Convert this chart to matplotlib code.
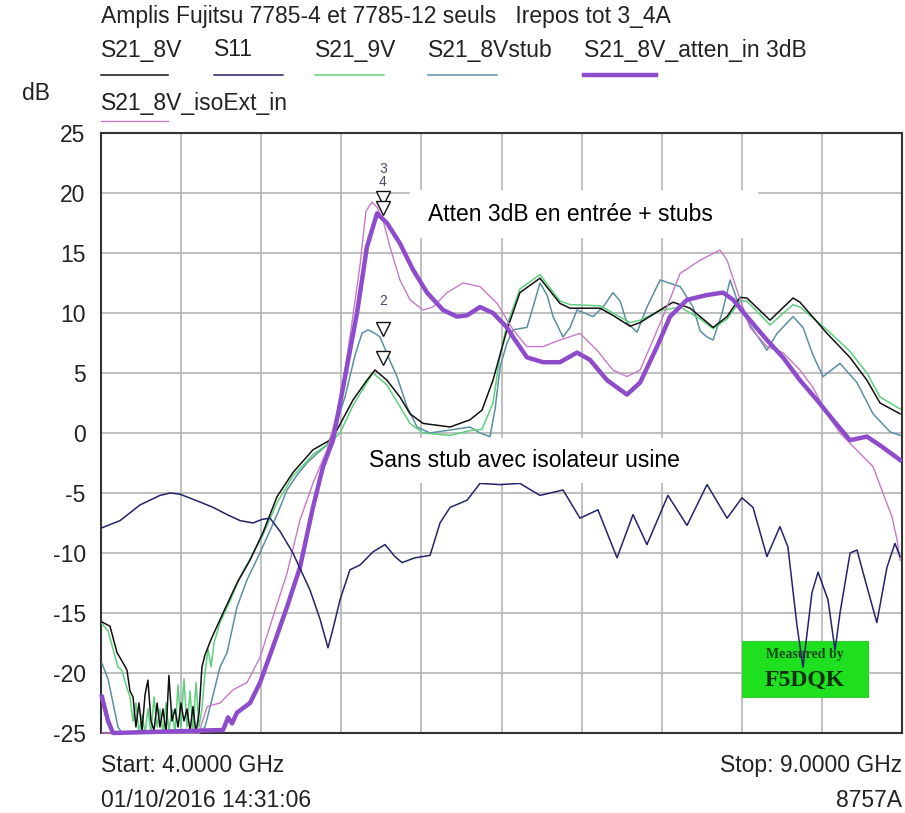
import matplotlib
matplotlib.use("Agg")
import matplotlib.pyplot as plt
import matplotlib.transforms as mtransforms
from matplotlib.patches import Rectangle

plt.rcParams['font.family'] = ['Liberation Sans', 'DejaVu Sans']

# ---------------- data (GHz, dB) ----------------
s11_f = [4.006, 4.119, 4.243, 4.368, 4.431, 4.493, 4.618, 4.70, 4.787, 4.868, 4.949, 5.005,
         5.055, 5.118, 5.198, 5.305, 5.367, 5.417, 5.454, 5.492, 5.554, 5.617, 5.698, 5.773,
         5.835, 5.879, 5.96, 6.054, 6.116, 6.179, 6.285, 6.366, 6.491, 6.615, 6.74, 6.884,
         6.99, 7.102, 7.221, 7.321, 7.408, 7.539, 7.658, 7.783, 7.908, 8.001, 8.07, 8.157,
         8.238, 8.288, 8.344, 8.382, 8.438, 8.476, 8.538, 8.582, 8.613, 8.676, 8.719, 8.781,
         8.843, 8.906, 8.956, 8.988]
s11_db = [-7.9, -7.3, -6.0, -5.2, -5.0, -5.1, -5.75, -6.2, -6.8, -7.3, -7.5, -7.2,
          -7.1, -8.2, -10.0, -13.1, -15.5, -17.9, -16.0, -13.9, -11.4, -11.0, -9.9, -9.3,
          -10.3, -10.8, -10.4, -10.2, -7.5, -6.2, -5.6, -4.2, -4.3, -4.2, -5.2, -4.75,
          -7.1, -6.4, -10.4, -6.8, -9.3, -5.2, -7.7, -4.3, -7.1, -5.4, -6.2, -10.3,
          -7.8, -9.5, -16.0, -19.5, -13.3, -11.6, -13.9, -18.1, -15.0, -10.0, -9.75, -12.8,
          -15.8, -11.2, -9.2, -10.3]

s21_8v_f = [4.006, 4.056, 4.100, 4.131, 4.162, 4.181, 4.200, 4.218, 4.237, 4.256, 4.275, 4.293,
            4.312, 4.331, 4.350, 4.368, 4.387, 4.406, 4.424, 4.443, 4.462, 4.481, 4.499, 4.518,
            4.537, 4.556, 4.574, 4.593, 4.612, 4.630, 4.649, 4.687, 4.762, 4.849, 4.930, 5.011,
            5.099, 5.198, 5.323, 5.429, 5.473, 5.573, 5.660, 5.710, 5.785, 5.866, 5.929, 6.010,
            6.179, 6.303, 6.378, 6.447, 6.534, 6.615, 6.740, 6.865, 6.928, 7.115, 7.196, 7.302,
            7.365, 7.490, 7.571, 7.677, 7.821, 7.908, 7.989, 8.032, 8.176, 8.320, 8.363, 8.532,
            8.675, 8.781, 8.863, 8.988]
s21_8v_db = [-15.75, -16.1, -18.3, -19.0, -19.75, -21.5, -22.0, -24.5, -22.5, -24.8, -21.8, -20.6,
             -24.0, -24.8, -22.5, -24.5, -23.0, -25.0, -20.2, -24.0, -23.0, -24.5, -22.5, -24.0,
             -23.0, -24.8, -22.8, -25.0, -23.3, -19.5, -18.5, -17.2, -15.0, -12.5, -10.6, -8.3,
             -5.3, -3.3, -1.4, -0.6, 0.25, 2.75, 4.4, 5.25, 4.4, 3.0, 1.6, 0.8,
             0.5, 1.1, 1.9, 4.4, 8.6, 11.7, 12.9, 10.8, 10.4, 10.4, 9.8, 8.9,
             9.2, 10.25, 10.9, 10.4, 8.8, 9.7, 11.3, 11.25, 9.4, 11.25, 10.9, 8.3,
             6.3, 4.4, 2.5, 1.6]

s21_9v_f = [4.006, 4.044, 4.075, 4.106, 4.131, 4.156, 4.181, 4.200, 4.218, 4.237, 4.256, 4.275,
            4.293, 4.312, 4.331, 4.350, 4.368, 4.387, 4.406, 4.424, 4.443, 4.462, 4.481, 4.499,
            4.518, 4.537, 4.556, 4.574, 4.593, 4.612, 4.630, 4.649, 4.668, 4.687, 4.705, 4.743,
            4.805, 4.868, 4.930, 5.011, 5.099, 5.198, 5.323, 5.429, 5.492, 5.573, 5.660, 5.698,
            5.785, 5.866, 5.929, 6.010, 6.179, 6.303, 6.378, 6.447, 6.491, 6.534, 6.615, 6.740,
            6.865, 6.928, 7.115, 7.196, 7.302, 7.365, 7.490, 7.615, 7.740, 7.821, 7.908, 7.989,
            8.032, 8.176, 8.320, 8.363, 8.532, 8.675, 8.781, 8.863, 8.988]
s21_9v_db = [-15.9, -16.5, -18.0, -19.5, -19.8, -21.0, -22.0, -24.0, -22.5, -25.0, -23.5, -25.0,
             -23.0, -25.0, -22.0, -24.5, -23.0, -25.0, -22.5, -24.8, -23.0, -25.0, -21.0, -24.5,
             -20.5, -24.5, -21.5, -25.0, -20.8, -24.5, -23.0, -20.0, -18.0, -19.5, -17.5, -15.8,
             -14.0, -12.0, -10.5, -8.5, -5.8, -3.6, -1.8, -0.8, 0.0, 2.3, 4.2, 5.0,
             4.0, 2.2, 0.8, 0.0, -0.2, 0.2, 0.3, 2.5, 6.5, 9.0, 12.0, 13.2,
             11.0, 10.7, 10.6, 10.0, 9.2, 9.4, 10.2, 10.5, 9.5, 8.7, 9.5, 11.0,
             11.0, 9.0, 10.7, 10.5, 8.6, 6.8, 5.0, 3.0, 2.0]

s21_stub_f = [4.006, 4.044, 4.075, 4.106, 4.131, 4.612, 4.649, 4.687, 4.743, 4.787, 4.849, 4.911,
              4.974, 5.036, 5.099, 5.161, 5.224, 5.286, 5.349, 5.411, 5.461, 5.523, 5.586, 5.629,
              5.667, 5.710, 5.742, 5.804, 5.848, 5.910, 5.973, 6.054, 6.179, 6.303, 6.366, 6.428,
              6.460, 6.491, 6.534, 6.572, 6.659, 6.697, 6.740, 6.784, 6.822, 6.884, 6.928, 6.971,
              7.071, 7.134, 7.196, 7.240, 7.283, 7.346, 7.408, 7.490, 7.615, 7.696, 7.740, 7.783,
              7.821, 7.877, 7.927, 7.970, 8.051, 8.157, 8.220, 8.320, 8.382, 8.444, 8.507, 8.613,
              8.719, 8.819, 8.925, 8.988]
s21_stub_db = [-19.2, -20.5, -22.5, -24.5, -25.0, -25.0, -24.5, -22.5, -19.5, -18.3, -14.5, -12.25,
               -10.5, -8.7, -6.8, -4.75, -3.5, -2.5, -1.7, -1.0, 0.5, 3.0, 6.5, 8.3,
               8.6, 8.3, 8.0, 6.0, 4.7, 2.2, 0.5, 0.0, 0.25, 0.5, 0.0, -0.3,
               2.0, 5.5, 7.5, 8.6, 8.8, 10.5, 12.5, 11.5, 9.7, 8.0, 8.8, 10.25,
               9.7, 10.5, 11.7, 11.0, 9.2, 8.4, 10.5, 12.75, 12.2, 10.5, 8.5, 8.0,
               7.75, 10.0, 12.75, 11.1, 9.0, 6.9, 8.3, 9.7, 8.8, 6.5, 4.7, 5.8,
               4.2, 1.6, 0.1, -0.2]

s21_atten_f = [4.006, 4.044, 4.075, 4.762, 4.793, 4.818, 4.849, 4.930, 4.993, 5.074, 5.161, 5.242,
               5.323, 5.386, 5.448, 5.511, 5.598, 5.660, 5.723, 5.785, 5.866, 5.948, 6.035, 6.135,
               6.222, 6.285, 6.366, 6.447, 6.534, 6.572, 6.659, 6.759, 6.865, 6.971, 7.052, 7.159,
               7.283, 7.365, 7.471, 7.552, 7.658, 7.783, 7.883, 7.946, 8.032, 8.157, 8.257, 8.363,
               8.469, 8.569, 8.675, 8.781, 8.881, 8.988]
s21_atten_db = [-22.0, -24.0, -25.0, -24.75, -23.7, -24.2, -23.3, -22.5, -20.8, -17.8, -14.5, -11.2,
                -6.2, -2.8, -0.6, 3.8, 10.0, 15.5, 18.3, 17.5, 15.8, 13.6, 11.7, 10.25,
                9.7, 9.8, 10.5, 10.0, 8.8, 8.0, 6.3, 5.9, 5.9, 6.7, 6.1, 4.4,
                3.2, 4.2, 7.2, 9.7, 11.1, 11.5, 11.7, 11.1, 9.7, 7.75, 6.3, 4.4,
                2.75, 1.1, -0.6, -0.3, -1.2, -2.25]

s21_iso_f = [4.006, 4.612, 4.662, 4.743, 4.824, 4.911, 4.993, 5.074, 5.161, 5.242, 5.323, 5.411,
             5.492, 5.554, 5.617, 5.654, 5.692, 5.723, 5.760, 5.804, 5.866, 5.929, 6.010, 6.073,
             6.160, 6.260, 6.366, 6.472, 6.572, 6.659, 6.759, 6.865, 6.990, 7.096, 7.196, 7.283,
             7.365, 7.446, 7.533, 7.615, 7.740, 7.864, 7.908, 7.970, 8.051, 8.157, 8.257, 8.363,
             8.444, 8.532, 8.613, 8.738, 8.819, 8.881, 8.938, 8.969, 8.988]
s21_iso_db = [-25.0, -25.0, -22.8, -22.5, -21.4, -20.8, -18.7, -15.3, -11.7, -7.25, -4.2, -1.4,
              2.5, 8.0, 14.0, 18.5, 19.25, 18.8, 17.75, 15.5, 12.75, 11.1, 10.25, 10.5,
              11.7, 12.5, 12.2, 10.8, 8.6, 7.2, 7.2, 7.75, 8.3, 6.9, 5.25, 4.7,
              5.25, 7.75, 10.5, 13.3, 14.4, 15.25, 14.4, 11.9, 8.8, 7.2, 6.7, 5.25,
              3.8, 1.6, 0.0, -1.7, -2.8, -5.0, -7.0, -8.9, -10.6]

marker_freq = 5.76
marker_db = [5.7, 8.1, 19.0, 18.2]
marker_labels = ['', '2', '3', '4']

series_names = ['S21_8V', 'S11', 'S21_9V', 'S21_8Vstub', 'S21_8V_atten_in 3dB', 'S21_8V_isoExt_in']
series_colors = ['#111111', '#23236a', '#5fcf7f', '#5b8fa3', '#8e4ccc', '#c77ac7']
series_lw = [1.1, 1.1, 1.1, 1.1, 3.2, 1.0]

y_ticks = [25, 20, 15, 10, 5, 0, -5, -10, -15, -20, -25]

# ---------------- figure ----------------
W, H = 905, 813
fig = plt.figure(figsize=(W / 100, H / 100), dpi=100)
ax = fig.add_axes([101 / W, (H - 733) / H, 801 / W, 600 / H])
ax.set_xlim(4.0, 9.0)
ax.set_ylim(-25, 25)
ax.set_xticks([4.0 + 0.5 * i for i in range(11)])
ax.set_yticks(y_ticks)
ax.set_xticklabels([])
ax.set_yticklabels([str(t) for t in y_ticks], fontsize=16.5, color='#222222')
ax.tick_params(axis='both', length=0, pad=11)
ax.grid(True, color='#b4b4b4', linewidth=1.2)
ax.set_axisbelow(True)
for sp in ax.spines.values():
    sp.set_color('#333333')
    sp.set_linewidth(1.5)

data = [(s21_8v_f, s21_8v_db), (s11_f, s11_db), (s21_9v_f, s21_9v_db),
        (s21_stub_f, s21_stub_db), (s21_atten_f, s21_atten_db), (s21_iso_f, s21_iso_db)]
order = [3, 2, 0, 5, 4]
for i in order:
    f, d = data[i]
    ax.plot(f, d, color=series_colors[i], lw=series_lw[i], zorder=3,
            clip_on=False, solid_joinstyle='round')
# S11 on top
f, d = data[1]
ax.plot(f, d, color=series_colors[1], lw=1.1, zorder=6, clip_on=False)

# markers (tip on the trace)
toff = mtransforms.offset_copy(ax.transData, fig=fig, x=0, y=5, units='points')
for v in marker_db:
    ax.plot([marker_freq], [v], marker='v', ms=10, mfc='white', mec='#111111', mew=1.0,
            transform=toff, zorder=8, clip_on=False)
lab_off = {'2': 25, '3': 26, '4': 23.5}
for v, lab in zip(marker_db, marker_labels):
    if lab:
        ax.annotate(lab, (marker_freq, v), xytext=(0, lab_off[lab]), textcoords='offset points',
                    ha='center', va='center', fontsize=10, color='#4a4a66', zorder=9)

# white label boxes
ax.add_patch(Rectangle((0.386, 0.825), 0.434, 0.080, transform=ax.transAxes,
                       facecolor='white', edgecolor='none', zorder=7))
ax.text(0.408, 0.864, 'Atten 3dB en entrée + stubs', transform=ax.transAxes,
        fontsize=16.5, va='center', ha='left', color='black', zorder=8)
ax.add_patch(Rectangle((0.323, 0.4167), 0.431, 0.075, transform=ax.transAxes,
                       facecolor='white', edgecolor='none', zorder=7))
ax.text(0.3346, 0.455, 'Sans stub avec isolateur usine', transform=ax.transAxes,
        fontsize=16.5, va='center', ha='left', color='black', zorder=8)

# green badge
ax.add_patch(Rectangle((0.800, 0.060), 0.1576, 0.0933, transform=ax.transAxes,
                       facecolor='#1fe01f', edgecolor='#33cc33', lw=0.8, zorder=2.5))
ax.text(0.879, 0.131, 'Measured by', transform=ax.transAxes, ha='center', va='center',
        fontsize=10, fontweight='bold', family=['Liberation Serif', 'DejaVu Serif'],
        color='#1a4a1a', zorder=2.6)
ax.text(0.879, 0.087, 'F5DQK', transform=ax.transAxes, ha='center', va='center',
        fontsize=17, fontweight='bold', family=['Liberation Serif', 'DejaVu Serif'],
        color='#103010', zorder=2.6)

# header texts
def ftext(x, y, s, ha='left', **kw):
    fig.text(x / W, 1 - y / H, s, ha=ha, va='center', fontsize=16.5, color='#222222', **kw)

ftext(101, 17, 'Amplis Fujitsu 7785-4 et 7785-12 seuls   Irepos tot 3_4A')
leg_x = [101, 214, 315, 428, 584]
leg_x2 = [168, 283, 384, 497, 656]
for k in range(5):
    ftext(leg_x[k], 50, series_names[k])
    fig.add_artist(plt.Line2D([leg_x[k] / W, leg_x2[k] / W], [1 - 75 / H, 1 - 75 / H],
                              color=series_colors[k], lw=series_lw[k]))
ftext(101, 103, series_names[5])
fig.add_artist(plt.Line2D([101 / W, 168 / W], [1 - 121 / H, 1 - 121 / H],
                          color=series_colors[5], lw=series_lw[5]))
ftext(22, 93, 'dB')

ftext(101, 765, 'Start: 4.0000 GHz')
ftext(902, 765, 'Stop: 9.0000 GHz', ha='right')
ftext(101, 800, '01/10/2016 14:31:06')
ftext(902, 800, '8757A', ha='right')

fig.savefig('out.png', dpi=100, facecolor='white')
